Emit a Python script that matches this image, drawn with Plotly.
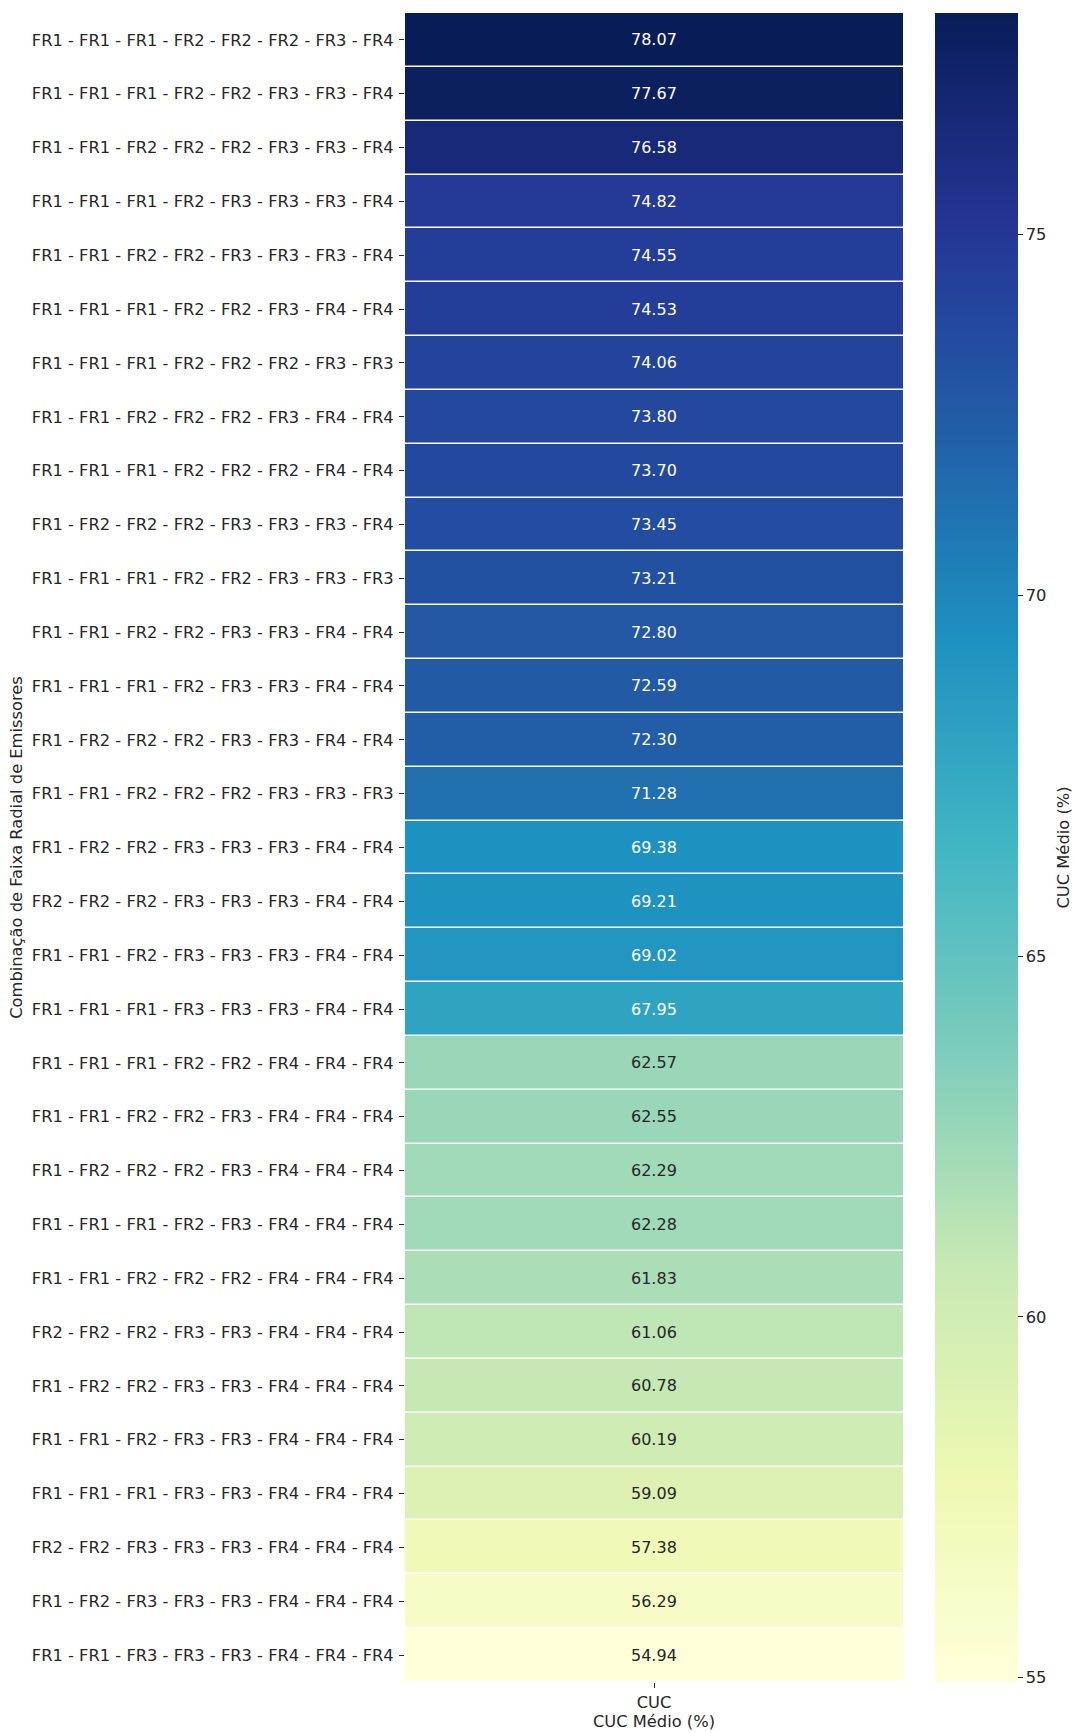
import plotly.graph_objects as go

# Combinations of emitter radial ranges, ordered by mean CUC
combinacoes = [
    "FR1 - FR1 - FR1 - FR2 - FR2 - FR2 - FR3 - FR4",
    "FR1 - FR1 - FR1 - FR2 - FR2 - FR3 - FR3 - FR4",
    "FR1 - FR1 - FR2 - FR2 - FR2 - FR3 - FR3 - FR4",
    "FR1 - FR1 - FR1 - FR2 - FR3 - FR3 - FR3 - FR4",
    "FR1 - FR1 - FR2 - FR2 - FR3 - FR3 - FR3 - FR4",
    "FR1 - FR1 - FR1 - FR2 - FR2 - FR3 - FR4 - FR4",
    "FR1 - FR1 - FR1 - FR2 - FR2 - FR2 - FR3 - FR3",
    "FR1 - FR1 - FR2 - FR2 - FR2 - FR3 - FR4 - FR4",
    "FR1 - FR1 - FR1 - FR2 - FR2 - FR2 - FR4 - FR4",
    "FR1 - FR2 - FR2 - FR2 - FR3 - FR3 - FR3 - FR4",
    "FR1 - FR1 - FR1 - FR2 - FR2 - FR3 - FR3 - FR3",
    "FR1 - FR1 - FR2 - FR2 - FR3 - FR3 - FR4 - FR4",
    "FR1 - FR1 - FR1 - FR2 - FR3 - FR3 - FR4 - FR4",
    "FR1 - FR2 - FR2 - FR2 - FR3 - FR3 - FR4 - FR4",
    "FR1 - FR1 - FR2 - FR2 - FR2 - FR3 - FR3 - FR3",
    "FR1 - FR2 - FR2 - FR3 - FR3 - FR3 - FR4 - FR4",
    "FR2 - FR2 - FR2 - FR3 - FR3 - FR3 - FR4 - FR4",
    "FR1 - FR1 - FR2 - FR3 - FR3 - FR3 - FR4 - FR4",
    "FR1 - FR1 - FR1 - FR3 - FR3 - FR3 - FR4 - FR4",
    "FR1 - FR1 - FR1 - FR2 - FR2 - FR4 - FR4 - FR4",
    "FR1 - FR1 - FR2 - FR2 - FR3 - FR4 - FR4 - FR4",
    "FR1 - FR2 - FR2 - FR2 - FR3 - FR4 - FR4 - FR4",
    "FR1 - FR1 - FR1 - FR2 - FR3 - FR4 - FR4 - FR4",
    "FR1 - FR1 - FR2 - FR2 - FR2 - FR4 - FR4 - FR4",
    "FR2 - FR2 - FR2 - FR3 - FR3 - FR4 - FR4 - FR4",
    "FR1 - FR2 - FR2 - FR3 - FR3 - FR4 - FR4 - FR4",
    "FR1 - FR1 - FR2 - FR3 - FR3 - FR4 - FR4 - FR4",
    "FR1 - FR1 - FR1 - FR3 - FR3 - FR4 - FR4 - FR4",
    "FR2 - FR2 - FR3 - FR3 - FR3 - FR4 - FR4 - FR4",
    "FR1 - FR2 - FR3 - FR3 - FR3 - FR4 - FR4 - FR4",
    "FR1 - FR1 - FR3 - FR3 - FR3 - FR4 - FR4 - FR4",
]

cuc_medio = [
    78.07, 77.67, 76.58, 74.82, 74.55, 74.53, 74.06, 73.80, 73.70, 73.45,
    73.21, 72.80, 72.59, 72.30, 71.28, 69.38, 69.21, 69.02, 67.95, 62.57,
    62.55, 62.29, 62.28, 61.83, 61.06, 60.78, 60.19, 59.09, 57.38, 56.29,
    54.94,
]

colunas = ["CUC"]
colorbar_ticks = [55, 60, 65, 70, 75]

# ColorBrewer YlGnBu, evenly spaced
ylgnbu = ["#ffffd9", "#edf8b1", "#c7e9b4", "#7fcdbb", "#41b6c4",
          "#1d91c0", "#225ea8", "#253494", "#081d58"]
colorscale = [[i / (len(ylgnbu) - 1), c] for i, c in enumerate(ylgnbu)]

FONT = "DejaVu Sans"
TXT = "#262626"
FS = 16.3

zmin, zmax = min(cuc_medio), max(cuc_medio)

fig = go.Figure(
    go.Heatmap(
        z=[[v] for v in cuc_medio],
        x=colunas,
        y=combinacoes,
        zmin=zmin,
        zmax=zmax,
        colorscale=colorscale,
        ygap=1.5,
        xgap=0,
        hovertemplate="%{y}<br>%{z:.2f}<extra></extra>",
        colorbar=dict(
            x=1.0643,
            xanchor="left",
            xpad=0,
            y=0.5,
            yanchor="middle",
            ypad=0,
            len=1.0,
            lenmode="fraction",
            thickness=83,
            thicknessmode="pixels",
            outlinewidth=0,
            tickvals=colorbar_ticks,
            ticks="outside",
            ticklen=5,
            tickwidth=1,
            tickcolor=TXT,
            tickfont=dict(family=FONT, size=FS, color=TXT),
        ),
    )
)

# Value labels on each cell, light text on dark cells
for nome, v in zip(combinacoes, cuc_medio):
    frac = (v - zmin) / (zmax - zmin)
    fig.add_annotation(
        x=colunas[0], y=nome, text=f"{v:.2f}", showarrow=False,
        font=dict(family=FONT, size=16, color="white" if frac > 0.52 else TXT),
    )

# Colour bar label, rotated, to the right of the tick labels
fig.add_annotation(
    xref="paper", yref="paper", x=1.3213, y=0.5,
    xanchor="center", yanchor="middle",
    text="CUC Médio (%)", textangle=-90, showarrow=False,
    font=dict(family=FONT, size=FS, color=TXT),
)

fig.update_layout(
    width=1073,
    height=1733,
    margin=dict(l=405, r=170, t=13, b=51, autoexpand=False),
    paper_bgcolor="white",
    plot_bgcolor="white",
    font=dict(family=FONT, size=FS, color=TXT),
    showlegend=False,
)

fig.update_xaxes(
    automargin=False,
    showgrid=False,
    zeroline=False,
    showline=False,
    ticks="outside",
    ticklen=5,
    tickwidth=1,
    tickcolor=TXT,
    tickfont=dict(family=FONT, size=FS, color=TXT),
    title=dict(text="CUC Médio (%)", standoff=4,
               font=dict(family=FONT, size=FS, color=TXT)),
)

fig.update_yaxes(
    automargin=False,
    autorange="reversed",
    showgrid=False,
    zeroline=False,
    showline=False,
    ticks="outside",
    ticklen=5,
    tickwidth=1,
    tickcolor=TXT,
    ticklabelstandoff=2,
    tickfont=dict(family=FONT, size=FS, color=TXT),
    title=dict(text="Combinação de Faixa Radial de Emissores", standoff=5,
               font=dict(family=FONT, size=FS, color=TXT)),
)

fig.write_html("out.html")
